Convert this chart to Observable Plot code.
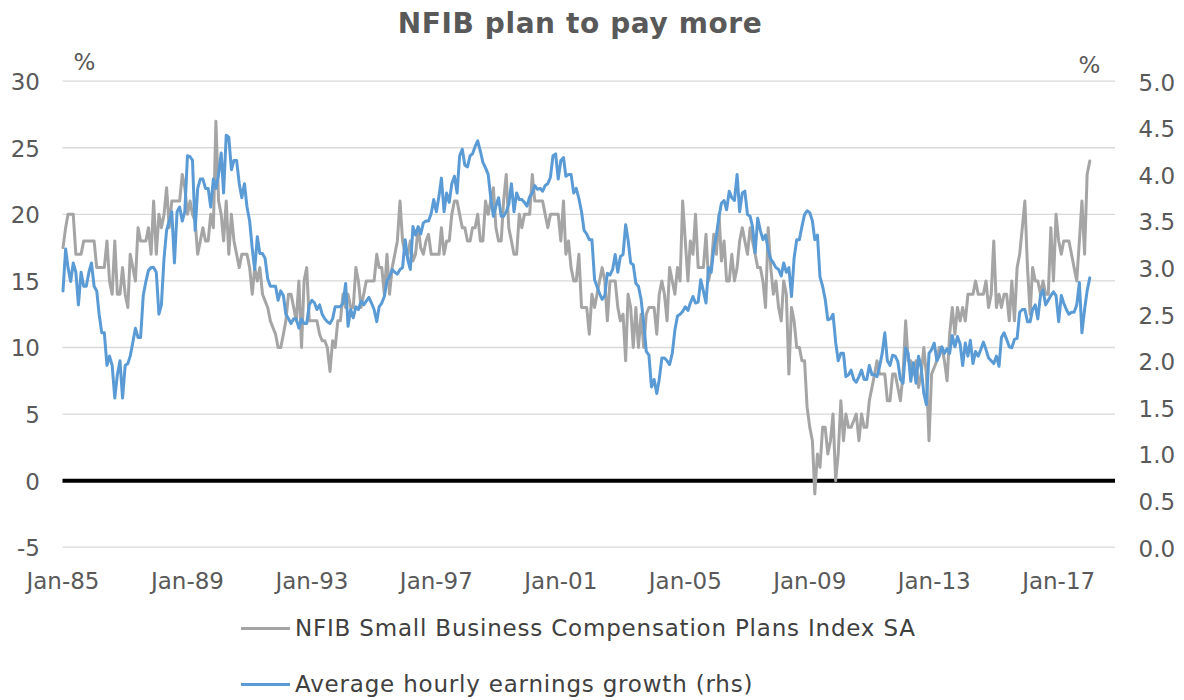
<!DOCTYPE html>
<html>
<head>
<meta charset="utf-8">
<script src="https://cdn.jsdelivr.net/npm/d3@7"></script>
<script src="https://cdn.jsdelivr.net/npm/@observablehq/plot@0.6"></script>
<style>
  html, body { margin: 0; padding: 0; background: #ffffff; }
  #wrap { position: relative; width: 1184px; height: 700px; overflow: hidden; font-family: "DejaVu Sans", Verdana, sans-serif; }
  #title { position: absolute; left: 0; top: 7px; width: 1160px; text-align: center; font-size: 28px; letter-spacing: 0.6px; font-weight: bold; color: #595959; line-height: 34px; }
  #chart { position: absolute; left: 0; top: 44px; }
  .lg { position: absolute; left: 241px; height: 30px; display: flex; align-items: center; font-size: 23px; letter-spacing: 0.8px; color: #404040; white-space: nowrap; }
  .lg .sw { width: 49px; height: 3px; margin-right: 5px; }
</style>
</head>
<body>
<div id="wrap">
  <div id="title"></div>
  <div id="chart"></div>
  <div id="legend"></div>
</div>
<script>
// ---- data (monthly, Jan-1985 .. Jan-2018) ----
const titleText = "NFIB plan to pay more";
const startYear = 1985;
const startMonth = 0;

// NFIB Small Business Compensation Plans Index SA (lhs, %)
const nfib = [
  17.5,19,20,20,20,17,17,17,18,18,18,18,
  18,16,16,16,16,18,15,14,18,14,14,16,
  14,13,17,16,15,19,18,18,18,19,17,21,
  17,20,19,20,22,19,21,21,21,21,23,22,
  20,21,20,19.5,17,18,19,18,18,20,19,27,
  21,20,18,21,17,20,18,17,16,17,17,17,
  16,14,16,15,16,14,13.5,13,12,11.5,11,10,
  10,11,12,14,14,13,12,15,10,15,16,12,
  12,12,12,11,10.5,10.5,10,8.2,10.5,10,12,12,
  14,13,14,13,13,16,15,13,14,15,15,15,
  15,17,16,16,14,17,14,16,17,18,21,18,
  17,17,18,16.5,17,19,17.5,17,18,18.5,17,17,
  17,17,19,17,18,18,20,21,21,20,19,19,
  18,18,19,19,20,18,18,21,20,21,22,19,
  18,18,21,23,19,18,17,17,20,19,20,20,
  20,23,21,21,21,21,20,19,20,20,20,20,
  18,21,17,18,16,15,15,17,13,13,13,11,
  14,13,14,15,16,15,12,15,15,15,13,12,
  12.5,9,14,13,10,13,10,12.5,10,12.5,13,13,
  13,11,14,15,14,12,16,15,14,16,15,21,
  18,15,18,17,20,16,16,16,18.5,15,16,18.5,
  17,20,16.5,18,15,15,17,15,16,18,19,18,
  17,19,18,17,16,16,15,13,19,16,14,15,
  13,12,15,14,8,13,12,10,10,9,9,5.5,
  4,3,-1,2,1,4,4,2,3,5,0,2,
  6,3,5,4,4,4.5,5,3,5,4,4,6,
  7,8,9,8,8,8,6,6,8,8,7,6,
  8,12,9,9,8,9,7,8,10,8,3,8,
  8.5,9,10,10,9,7.5,11,13,11,13,12,13,
  12,14,14,14,15,14,14,14,15,13,14,18,
  13,14,13,14,14,12,15,12,16,17,19,21,
  16,12.5,16,15,15,14,15,14,14,19,15,20,
  18,17,18,18,18,17,16,15,18,21,17,23,
  24
];

// Average hourly earnings growth (rhs, % y/y)
const ahe = [
  2.75,3.2,3.0,2.85,3.05,2.95,2.6,2.95,2.8,2.8,2.95,3.05,
  2.8,2.75,2.5,2.3,2.3,1.95,2.05,1.95,1.6,1.85,2.0,1.6,
  1.95,1.97,2.05,2.2,2.35,2.25,2.25,2.7,2.85,2.97,3.0,3.0,
  2.95,2.5,2.6,3.1,3.4,3.5,3.6,3.05,3.6,3.65,3.5,3.6,
  4.2,4.19,4.15,3.4,3.85,3.95,3.95,3.85,3.85,3.65,3.95,3.85,
  4.0,4.23,3.8,4.42,4.4,4.05,4.15,4.15,3.9,3.75,3.9,3.65,
  3.5,3.2,2.98,3.33,3.15,3.15,3.1,2.88,2.8,2.8,2.8,2.65,
  2.75,2.7,2.5,2.45,2.4,2.45,2.45,2.35,2.45,2.4,2.4,2.6,
  2.65,2.62,2.55,2.6,2.5,2.45,2.42,2.4,2.45,2.58,2.58,2.58,
  2.62,2.83,2.37,2.55,2.46,2.58,2.55,2.64,2.6,2.64,2.68,2.62,
  2.55,2.42,2.58,2.62,2.69,2.86,2.9,2.98,2.95,2.93,2.98,3.0,
  3.3,3.08,2.98,3.44,3.35,3.44,3.36,3.48,3.5,3.5,3.58,3.73,
  3.6,3.77,3.96,3.6,3.8,3.7,3.9,3.98,3.8,4.2,4.27,4.1,
  4.08,4.2,4.22,4.3,4.36,4.25,4.13,4.07,4.0,3.75,3.55,3.66,
  3.75,3.55,3.55,3.6,3.68,3.9,3.6,3.8,3.73,3.73,3.7,3.66,
  3.76,3.8,3.88,3.84,3.85,3.82,3.88,3.9,3.97,4.2,4.22,3.95,
  4.15,4.18,3.98,4.0,4.0,3.8,3.85,3.74,3.6,3.4,3.36,3.3,
  3.3,2.87,2.8,2.72,2.66,2.7,2.94,2.92,2.98,3.14,2.95,3.12,
  3.14,3.46,3.3,3.05,3.03,2.83,2.8,2.66,2.4,2.1,2.06,1.72,
  1.8,1.65,1.8,2.03,2.03,2.0,1.96,2.08,2.33,2.48,2.5,2.53,
  2.58,2.54,2.62,2.69,2.62,2.63,2.87,2.75,2.62,3.0,2.95,3.2,
  3.35,3.55,3.69,3.72,3.62,3.82,3.75,3.72,4.0,3.6,3.8,3.82,
  3.57,3.55,3.44,3.16,3.53,3.4,3.3,3.35,3.19,3.09,3.05,3.0,
  2.98,2.91,3.05,2.95,3.0,2.69,3.1,3.3,3.3,3.44,3.57,3.61,
  3.59,3.5,3.3,3.35,2.9,2.8,2.66,2.44,2.45,2.5,2.2,2.0,
  2.08,2.08,1.83,1.85,1.9,1.8,1.77,1.83,1.9,1.8,1.8,1.95,
  1.85,1.85,1.83,1.94,2.08,2.3,2.0,1.95,2.06,2.05,1.99,1.8,
  1.76,2.14,2.08,1.78,1.98,1.76,2.05,1.92,1.65,1.53,2.08,2.12,
  2.19,2.0,2.05,2.15,2.08,2.13,2.08,2.27,2.15,2.26,2.18,1.95,
  2.19,2.05,2.22,1.97,2.1,2.05,2.12,2.2,2.12,2.03,2.0,1.97,
  2.05,1.94,2.25,2.3,2.23,2.15,2.14,2.23,2.24,2.52,2.55,2.55,
  2.42,2.42,2.55,2.6,2.45,2.7,2.76,2.6,2.65,2.7,2.74,2.7,
  2.42,2.7,2.62,2.55,2.5,2.52,2.52,2.6,2.84,2.3,2.55,2.75,
  2.89
];

const leftTicks = [30, 25, 20, 15, 10, 5, 0, -5];
const rightTicks = [5.0, 4.5, 4.0, 3.5, 3.0, 2.5, 2.0, 1.5, 1.0, 0.5, 0.0];
const xTickYears = [1985, 1989, 1993, 1997, 2001, 2005, 2009, 2013, 2017];
const xTickLabels = ["Jan-85", "Jan-89", "Jan-93", "Jan-97", "Jan-01", "Jan-05", "Jan-09", "Jan-13", "Jan-17"];
const unitLabels = ["%", "%"];
const seriesNames = ["NFIB Small Business Compensation Plans Index SA", "Average hourly earnings growth (rhs)"];
const seriesColors = ["#a5a5a5", "#5b9bd5"];

// ---- build ----
const rows = nfib.map((v, i) => ({
  date: new Date(Date.UTC(startYear, startMonth + i, 1)),
  nfib: v,
  ahe: ahe[i]
}));
// right axis (0..5) maps onto left axis (-5..30)
const toLeft = r => r * 7 - 5;
const toRight = l => (l + 5) / 7;

const xTickDates = xTickYears.map(y => new Date(Date.UTC(y, 0, 1)));
const xLabelMap = new Map(xTickYears.map((y, i) => [y, xTickLabels[i]]));

const W = 1184, H = 556;
const mL = 62.5, mR = 69, mT = 36.7, mB = 53.3;
const labelColor = "#595959";

const chart = Plot.plot({
  width: W,
  height: H,
  marginLeft: mL,
  marginRight: mR,
  marginTop: mT,
  marginBottom: mB,
  style: { fontFamily: "'DejaVu Sans', Verdana, sans-serif", fontSize: "23px", color: labelColor, background: "#ffffff", overflow: "visible" },
  x: { type: "utc", domain: [new Date(Date.UTC(1985, 0, 1)), new Date(Date.UTC(2018, 9, 30))] },
  y: { domain: [-5, 30] },
  marks: [
    Plot.ruleY(leftTicks.filter(t => t !== 0), { stroke: "#d9d9d9", strokeWidth: 1.3 }),
    Plot.ruleY([0], { stroke: "#000000", strokeWidth: 4 }),
    Plot.lineY(rows, { x: "date", y: "nfib", stroke: seriesColors[0], strokeWidth: 3, strokeLinejoin: "round" }),
    Plot.lineY(rows, { x: "date", y: d => toLeft(d.ahe), stroke: seriesColors[1], strokeWidth: 3, strokeLinejoin: "round" }),
    Plot.axisX(xTickDates, { tickSize: 0, tickPadding: 25, tickFormat: d => xLabelMap.get(d.getUTCFullYear()), fill: labelColor, fontSize: 23, label: null, ariaLabel: "x-axis tick label" }),
    Plot.axisY(leftTicks, { anchor: "left", tickSize: 0, tickPadding: 23, fill: labelColor, fontSize: 23, dy: 1.5, label: null, tickFormat: d => String(d) }),
    Plot.axisY(rightTicks.map(toLeft), { anchor: "right", tickSize: 0, tickPadding: 23, fill: labelColor, fontSize: 23, dy: 2, label: null, tickFormat: d => toRight(d).toFixed(1) }),
    Plot.text([unitLabels[0]], { frameAnchor: "top-left", dx: 21.5, dy: -18.5, text: d => d, fill: labelColor, fontSize: 23, textAnchor: "middle", lineAnchor: "middle" }),
    Plot.text([unitLabels[1]], { frameAnchor: "top-right", dx: -26, dy: -15.5, text: d => d, fill: labelColor, fontSize: 23, textAnchor: "middle", lineAnchor: "middle" })
  ]
});
// slightly wider x tick labels, as in the reference
chart.querySelectorAll('g[aria-label="x-axis tick label"] text').forEach(t => {
  t.style.letterSpacing = "1px";
});
document.getElementById("chart").appendChild(chart);

document.getElementById("title").textContent = titleText;

const legend = document.getElementById("legend");
const legendTops = [613, 669];
seriesNames.forEach((name, i) => {
  const item = document.createElement("div");
  item.className = "lg";
  item.style.top = legendTops[i] + "px";
  const sw = document.createElement("div");
  sw.className = "sw";
  sw.style.background = seriesColors[i];
  const tx = document.createElement("span");
  tx.textContent = name;
  item.appendChild(sw);
  item.appendChild(tx);
  legend.appendChild(item);
});
</script>
</body>
</html>
